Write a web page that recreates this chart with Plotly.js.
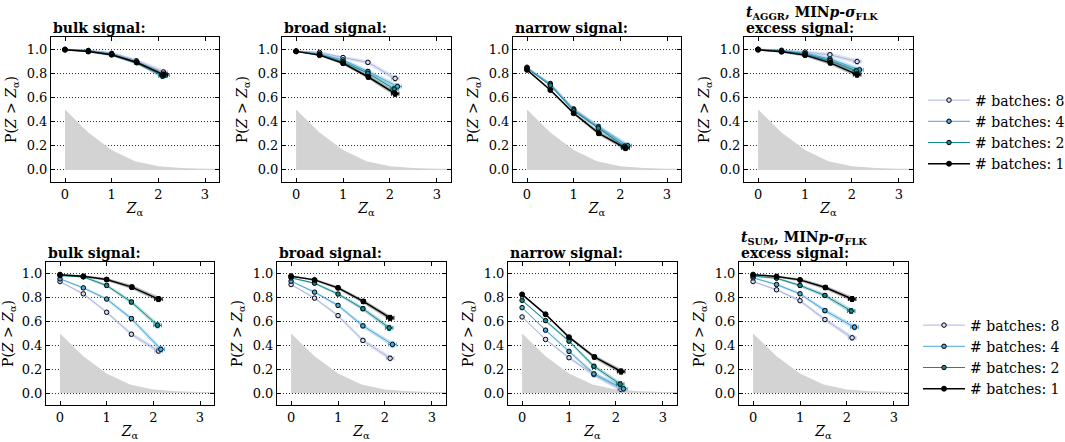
<!DOCTYPE html>
<html><head><meta charset="utf-8">
<script src="https://cdn.plot.ly/plotly-3.0.1.min.js"></script>
<style>html,body{margin:0;padding:0;background:#fff}#chart{width:1065px;height:442px}</style>
</head><body><div id="chart"></div>
<script>
// ---------- data ----------
const NULL_Z = [0, 0.5, 1.0, 1.5, 2.0, 2.5, 3.0, 3.3];
const NULL_DENSITY = [0.5, 0.31, 0.165, 0.072, 0.03, 0.015, 0.01, 0.01];

const BATCH_LABELS = ['# batches: 8', '# batches: 4', '# batches: 2', '# batches: 1'];
const Z_B8 = [0, 0.5, 1.0, 1.53, 2.11];
const Z_B4 = [0, 0.5, 1.0, 1.53, 2.16];
const Z_B2 = [0, 0.5, 1.0, 1.53, 2.09];
const Z_B1 = [0, 0.5, 1.0, 1.54, 2.11];
const Z_ERR = [0.01, 0.015, 0.025, 0.04, 0.08];
const P_ERR = [0.005, 0.009, 0.013, 0.017, 0.021];

// row 1: t_AGGR
const AGGR_BULK_B8 = [0.998, 0.988, 0.965, 0.903, 0.81];
const AGGR_BULK_B4 = [0.997, 0.987, 0.960, 0.895, 0.785];
const AGGR_BULK_B2 = [0.997, 0.985, 0.957, 0.893, 0.777];
const AGGR_BULK_B1 = [0.994, 0.98, 0.953, 0.889, 0.789];
const AGGR_BROAD_B8 = [0.985, 0.972, 0.93, 0.89, 0.757];
const AGGR_BROAD_B4 = [0.982, 0.96, 0.91, 0.815, 0.69];
const AGGR_BROAD_B2 = [0.98, 0.955, 0.895, 0.80, 0.67];
const AGGR_BROAD_B1 = [0.981, 0.95, 0.883, 0.769, 0.631];
const AGGR_NARROW_B8 = [0.85, 0.715, 0.505, 0.36, 0.20];
const AGGR_NARROW_B4 = [0.845, 0.71, 0.50, 0.355, 0.20];
const AGGR_NARROW_B2 = [0.84, 0.70, 0.49, 0.345, 0.195];
const AGGR_NARROW_B1 = [0.828, 0.661, 0.469, 0.303, 0.181];
const AGGR_EXCESS_B8 = [0.999, 0.99, 0.975, 0.953, 0.897];
const AGGR_EXCESS_B4 = [0.998, 0.987, 0.965, 0.918, 0.828];
const AGGR_EXCESS_B2 = [0.998, 0.985, 0.958, 0.905, 0.82];
const AGGR_EXCESS_B1 = [0.994, 0.978, 0.95, 0.886, 0.789];

// row 2: t_SUM
const SUM_BULK_B8 = [0.936, 0.833, 0.678, 0.494, 0.353];
const SUM_BULK_B4 = [0.958, 0.883, 0.789, 0.625, 0.367];
const SUM_BULK_B2 = [0.986, 0.975, 0.903, 0.764, 0.569];
const SUM_BULK_B1 = [0.994, 0.98, 0.953, 0.889, 0.789];
const SUM_BROAD_B8 = [0.911, 0.797, 0.65, 0.442, 0.292];
const SUM_BROAD_B4 = [0.939, 0.847, 0.736, 0.564, 0.408];
const SUM_BROAD_B2 = [0.967, 0.922, 0.831, 0.708, 0.547];
const SUM_BROAD_B1 = [0.981, 0.95, 0.883, 0.769, 0.631];
const SUM_NARROW_B8 = [0.639, 0.45, 0.297, 0.155, 0.03];
const SUM_NARROW_B4 = [0.717, 0.528, 0.35, 0.161, 0.036];
const SUM_NARROW_B2 = [0.778, 0.608, 0.436, 0.225, 0.075];
const SUM_NARROW_B1 = [0.828, 0.661, 0.469, 0.303, 0.181];
const SUM_EXCESS_B8 = [0.936, 0.867, 0.775, 0.617, 0.464];
const SUM_EXCESS_B4 = [0.967, 0.911, 0.833, 0.692, 0.553];
const SUM_EXCESS_B2 = [0.981, 0.964, 0.903, 0.819, 0.689];
const SUM_EXCESS_B1 = [0.994, 0.978, 0.95, 0.886, 0.789];

const PANEL_TITLES = ['bulk signal:', 'broad signal:', 'narrow signal:', 'excess signal:'];
const ROW_HEADERS = [
  '<i>t</i><sub>AGGR</sub>, MIN<i>p</i>-<i>σ</i><sub>FLK</sub>',
  '<i>t</i><sub>SUM</sub>, MIN<i>p</i>-<i>σ</i><sub>FLK</sub>'
];
const Y_TICKS = [0, 0.2, 0.4, 0.6, 0.8, 1.0];
const X_TICKS = [0, 1, 2, 3];

// ---------- styling ----------
const FONT = 'DejaVu Serif, serif';
const SERIES_X = [Z_B8, Z_B4, Z_B2, Z_B1];
const COLORS = ['#aab5df', '#4ca7d8', '#12898c', '#000000'];
const BANDS = ['rgba(150,165,220,0.30)', 'rgba(76,167,216,0.32)', 'rgba(18,137,140,0.32)', 'rgba(0,0,0,0.28)'];
const MFILL = ['#d4daf2', '#4ca7d8', '#12898c', '#000000'];

const PANELS = [
  [AGGR_BULK_B8, AGGR_BULK_B4, AGGR_BULK_B2, AGGR_BULK_B1],
  [AGGR_BROAD_B8, AGGR_BROAD_B4, AGGR_BROAD_B2, AGGR_BROAD_B1],
  [AGGR_NARROW_B8, AGGR_NARROW_B4, AGGR_NARROW_B2, AGGR_NARROW_B1],
  [AGGR_EXCESS_B8, AGGR_EXCESS_B4, AGGR_EXCESS_B2, AGGR_EXCESS_B1],
  [SUM_BULK_B8, SUM_BULK_B4, SUM_BULK_B2, SUM_BULK_B1],
  [SUM_BROAD_B8, SUM_BROAD_B4, SUM_BROAD_B2, SUM_BROAD_B1],
  [SUM_NARROW_B8, SUM_NARROW_B4, SUM_NARROW_B2, SUM_NARROW_B1],
  [SUM_EXCESS_B8, SUM_EXCESS_B4, SUM_EXCESS_B2, SUM_EXCESS_B1]
];

const W = 1065, H = 442;
// pixel boxes [left, right, top, bottom]
const BOXES = [
  [51, 219, 37, 182], [282, 451, 37, 182], [513, 681, 37, 182], [744, 913, 37, 182],
  [46, 214, 262, 405], [277, 446, 262, 405], [508, 677, 262, 405], [739, 908, 262, 405]
];

const traces = [];
const legendStyle = (x, y) => ({x: x / W, y: 1 - y / H, xanchor: 'left', yanchor: 'top',
  font: {family: FONT, size: 14}, bgcolor: 'rgba(0,0,0,0)', borderwidth: 0,
  traceorder: 'grouped', tracegroupgap: 0, itemwidth: 42});
const layout = {
  width: W, height: H,
  margin: {l: 0, r: 0, t: 0, b: 0, autoexpand: false},
  paper_bgcolor: '#fff', plot_bgcolor: '#fff',
  font: {family: FONT, size: 13, color: '#000'},
  showlegend: true,
  annotations: [],
  legend: legendStyle(923, 84.5),
  legend2: legendStyle(918, 309.5)
};

PANELS.forEach((series, p) => {
  const sfx = p === 0 ? '' : String(p + 1);
  const xa = 'x' + sfx, ya = 'y' + sfx;
  const [l, r, t, b] = BOXES[p];
  layout['xaxis' + sfx] = {
    domain: [l / W, r / W], anchor: ya, range: [-0.3, 3.3], automargin: false,
    tickvals: X_TICKS, ticks: 'inside', ticklen: 4, tickcolor: '#000',
    showline: true, mirror: 'allticks', linecolor: '#000', linewidth: 1,
    showgrid: false, zeroline: false,
    tickfont: {family: FONT, size: 13},
    title: {text: '<i>Z</i><sub>α</sub>', font: {family: FONT, size: 14}, standoff: 2}
  };
  layout['yaxis' + sfx] = {
    domain: [1 - b / H, 1 - t / H], anchor: xa, range: [-0.1, 1.1], automargin: false,
    tickvals: Y_TICKS, tickformat: '.1f', ticks: 'inside', ticklen: 4, tickcolor: '#000',
    showline: true, mirror: 'allticks', linecolor: '#000', linewidth: 1,
    showgrid: true, gridcolor: '#333', griddash: '1px,2px', gridwidth: 1, zeroline: false,
    tickfont: {family: FONT, size: 13},
    title: {text: 'P(<i>Z</i> &gt; <i>Z</i><sub>α</sub>)', font: {family: FONT, size: 14}, standoff: 6}
  };
  // null distribution
  traces.push({x: NULL_Z, y: NULL_DENSITY, xaxis: xa, yaxis: ya, type: 'scatter', mode: 'lines',
    fill: 'tozeroy', fillcolor: '#d3d3d3', line: {width: 0, color: '#d3d3d3'},
    showlegend: false, hoverinfo: 'skip'});
  // bands
  series.forEach((ys, s) => {
    const xs = SERIES_X[s];
    const up = ys.map((v, i) => v + P_ERR[i]);
    const lo = ys.map((v, i) => v - P_ERR[i]);
    traces.push({x: xs.concat(xs.slice().reverse()), y: up.concat(lo.slice().reverse()),
      xaxis: xa, yaxis: ya, type: 'scatter', mode: 'lines', fill: 'toself',
      fillcolor: BANDS[s], line: {width: 0}, showlegend: false, hoverinfo: 'skip'});
  });
  // lines
  series.forEach((ys, s) => {
    const showLeg = (p === 3 || p === 7);
    traces.push({
      x: SERIES_X[s], y: ys, xaxis: xa, yaxis: ya, type: 'scatter', mode: 'lines+markers',
      name: BATCH_LABELS[s],
      legend: p < 4 ? 'legend' : 'legend2',
      legendgroup: 'b' + s + (p < 4 ? 'a' : 'b'),
      showlegend: showLeg,
      line: {color: COLORS[s], width: s === 3 ? 1.5 : 1},
      marker: {size: s === 3 ? 5 : 4.5, color: MFILL[s], line: {color: '#000', width: 1}},
      error_x: {type: 'data', array: Z_ERR, color: COLORS[s], thickness: 1, width: 2},
      error_y: {type: 'data', array: P_ERR, color: COLORS[s], thickness: 1, width: 2}
    });
  });
  // panel title
  layout.annotations.push({
    xref: 'paper', yref: 'paper', x: l / W, y: 1 - t / H, xanchor: 'left', yanchor: 'bottom',
    yshift: -1, text: '<b>' + PANEL_TITLES[p % 4] + '</b>', showarrow: false, align: 'left',
    font: {family: FONT, size: 14, color: '#000'}
  });
  if (p % 4 === 3) {
    layout.annotations.push({
      xref: 'paper', yref: 'paper', x: l / W, y: 1 - t / H, xanchor: 'left', yanchor: 'bottom',
      yshift: 13, text: '<b>' + ROW_HEADERS[Math.floor(p / 4)] + '</b>', showarrow: false, align: 'left',
      font: {family: FONT, size: 14, color: '#000'}
    });
  }
});

Plotly.newPlot('chart', traces, layout, {staticPlot: true, displayModeBar: false});
</script>
</body></html>
